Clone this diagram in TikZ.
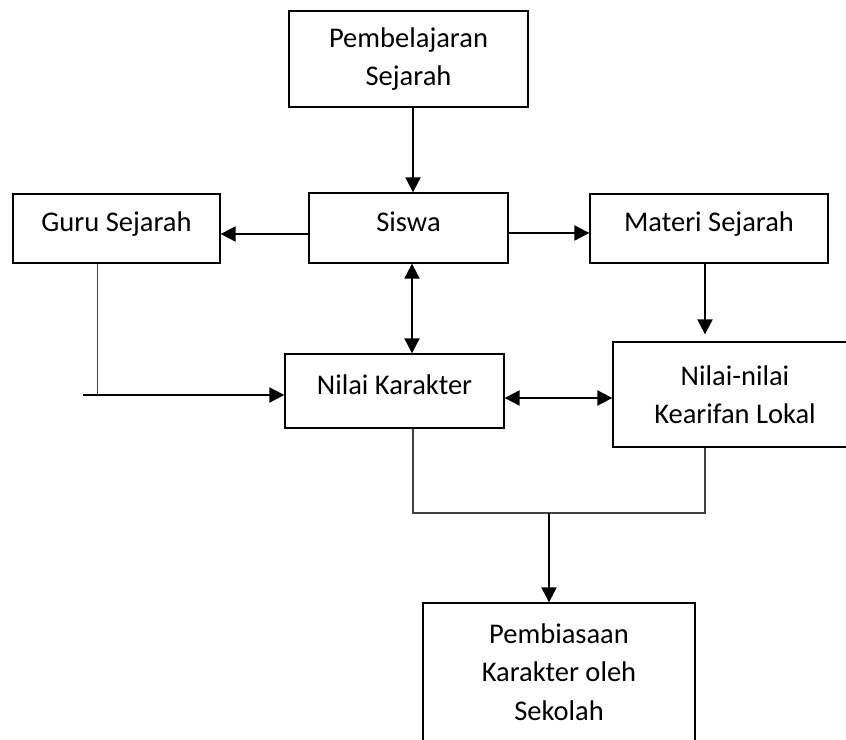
\documentclass[tikz,border=0pt]{standalone}
\usepackage{fontspec}
\setmainfont{Carlito}
\usetikzlibrary{arrows.meta}
\tikzset{
  box/.style={draw=black, line width=1.3pt, inner sep=0pt, align=center,
    font=\fontsize{28.5}{38.5}\selectfont},
  one/.style={text height=16pt, text depth=10pt},
  arr/.style={line width=2pt, -{Triangle[length=15pt,width=15pt]}},
  both/.style={line width=2pt, {Triangle[length=15pt,width=15pt]}-{Triangle[length=15pt,width=15pt]}},
  link/.style={line width=1.2pt, draw=black!75},
}

\begin{document}
\begin{tikzpicture}[x=1pt,y=-1pt]
  \useasboundingbox (0,0) rectangle (846,739);
  \clip (0,0) rectangle (846,739);

  \node[box, minimum width=239pt, minimum height=96pt] (P) at (408.5,59) {Pembelajaran\\Sejarah}; % top
  \node[box, one, minimum width=199pt, minimum height=70pt] (S) at (408.5,228) {Siswa};
  \node[box, one, minimum width=207pt, minimum height=69pt] (G) at (116.5,228.5) {Guru Sejarah};
  \node[box, one, minimum width=238pt, minimum height=69pt] (M) at (709,228.5) {Materi Sejarah};
  \node[box, one, minimum width=219pt, minimum height=74pt] (N) at (394.5,391) {Nilai Karakter};
  \node[box, minimum width=244pt, minimum height=105pt] (K) at (735,394.5) {Nilai-nilai\\Kearifan Lokal}; % cut at right
  \node[box, minimum width=272pt, minimum height=138pt] (B) at (559,672) {Pembiasaan\\Karakter oleh\\Sekolah}; % cut at bottom

  \coordinate (L) at (83,395);  % free end, left
  \coordinate (J) at (549,513); % join below

  \draw[arr] ([xshift=4.5pt]P.south) -- ([xshift=4.5pt]S.north);
  \draw[arr] ([yshift=-6pt]S.west) -- ([yshift=-6pt]S.west -| G.east);
  \draw[arr] ([yshift=-5pt]S.east) -- ([yshift=-5pt]S.east -| M.west);
  \draw[both] ([xshift=3.5pt]S.south) -- ([xshift=3.5pt]S.south |- N.north);
  \draw[arr, shorten >=7pt] ([xshift=-4pt]M.south) -- ([xshift=-4pt]M.south |- K.north);
  \draw[both] ([yshift=-7pt]N.east) -- ([yshift=-7pt]N.east -| K.west);

  \draw[link, line width=1pt] ([xshift=-19.5pt]G.south) -- ([xshift=-19.5pt]G.south |- L);
  \draw[arr] (L) -- (L -| N.west);

  \draw[link] ([xshift=18.5pt]N.south) |- (J) -| ([xshift=-30pt]K.south);
  \draw[arr] (J) -- (J |- B.north);
\end{tikzpicture}
\end{document}
